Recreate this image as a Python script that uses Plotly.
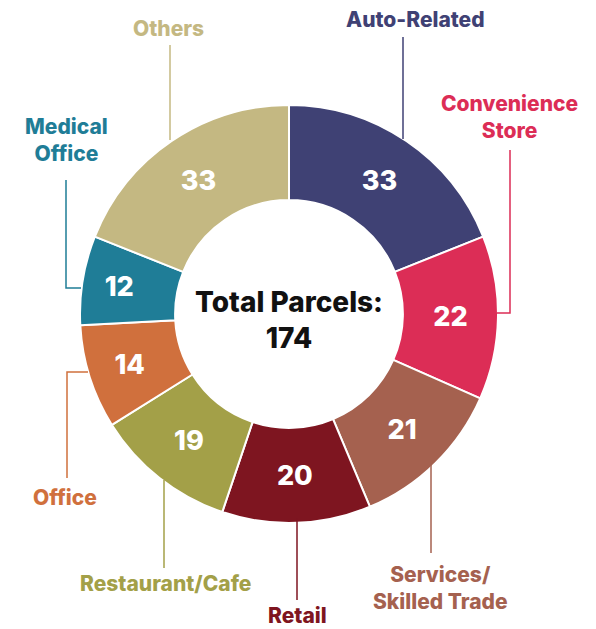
import plotly.graph_objects as go

# Parcel counts by land-use category, clockwise from 12 o'clock
categories = ["Auto-Related", "Convenience Store", "Services/Skilled Trade", "Retail",
              "Restaurant/Cafe", "Office", "Medical Office", "Others"]
parcels = [33, 22, 21, 20, 19, 14, 12, 33]
label_text = ["Auto-Related", "Convenience<br>Store", "Services/<br>Skilled Trade", "Retail",
              "Restaurant/Cafe", "Office", "Medical<br>Office", "Others"]
colors = ["#3f4174", "#dc2d56", "#a5614f", "#7e1520",
          "#a3a048", "#d0703d", "#1f7d97", "#c4b882"]

W, H = 596, 629
FONT = "Inter"


def px(x):
    return x / W


def py(y):
    return 1 - y / H


# donut centre and outer radius in pixels
cx, cy, r = 289, 314, 209

fig = go.Figure(go.Pie(
    labels=categories,
    values=parcels,
    sort=False,
    direction="clockwise",
    rotation=0,
    hole=0.545,
    marker=dict(colors=colors, line=dict(color="white", width=2)),
    texttemplate="%{value}",
    textposition="inside",
    insidetextorientation="horizontal",
    textfont=dict(family=FONT, size=27, color="white", weight=800),
    hoverinfo="label+value",
    showlegend=False,
    domain=dict(x=[px(cx - r), px(cx + r)], y=[py(cy + r), py(cy - r)]),
))

# leader line paths (pixel coordinates) and label anchor points
leaders = [
    [(403, 37), (403, 139)],
    [(510, 150), (510, 313), (497, 313)],
    [(431, 463), (431, 553)],
    [(297, 518), (297, 600)],
    [(164, 480), (164, 568)],
    [(88, 372), (67, 372), (67, 478)],
    [(66, 180), (66, 288), (81, 288)],
    [(170, 45), (170, 140)],
]
label_pos = [(415, 20), (509, 117), (440, 588), (297, 615),
             (165, 583), (65, 497), (66, 140), (168, 29)]

shapes = []
annotations = []
for pts, (lx, ly), txt, col in zip(leaders, label_pos, label_text, colors):
    path = "M " + " L ".join(f"{px(x)},{py(y)}" for x, y in pts)
    shapes.append(dict(type="path", path=path, xref="paper", yref="paper",
                       line=dict(color=col, width=1.5)))
    annotations.append(dict(x=px(lx), y=py(ly), xref="paper", yref="paper",
                            text=txt, showarrow=False, xanchor="center", yanchor="middle",
                            font=dict(family=FONT, size=21, color=col, weight=800)))

total = sum(parcels)
annotations.append(dict(x=px(cx), y=py(320), xref="paper", yref="paper",
                        text=f"Total Parcels:<br>{total}", showarrow=False,
                        xanchor="center", yanchor="middle",
                        font=dict(family=FONT, size=28, color="#111111", weight=800)))

fig.update_layout(
    width=W, height=H,
    margin=dict(l=0, r=0, t=0, b=0),
    paper_bgcolor="white",
    plot_bgcolor="white",
    shapes=shapes,
    annotations=annotations,
)

fig.write_html("out.html")
